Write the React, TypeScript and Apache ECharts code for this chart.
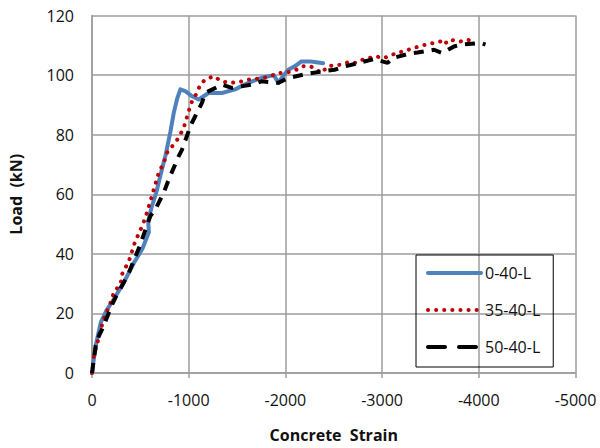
import React, { useEffect, useRef } from "react";
import * as echarts from "echarts";

const seriesNames = ["0-40-L", "35-40-L", "50-40-L"];

const strainA = [0, -20, -39, -91, -150, -211, -331, -434, -520, -588, -581, -615, -664, -720, -760, -811, -846, -880, -914, -965, -1030, -1103, -1206, -1343, -1480, -1617, -1754, -1880, -1926, -1960, -2029, -2100, -2166, -2250, -2302, -2390];
const loadA = [0, 5, 9.3, 17, 21, 24, 30.5, 37, 41.6, 47.2, 51, 55.5, 60.5, 68, 73, 81, 87.4, 92, 95.2, 94.6, 93, 91.8, 94, 94, 95.2, 97.4, 99.1, 100, 97.4, 99, 101.8, 103, 104.6, 104.6, 104.4, 104];

const strainB = [0, -22, -50, -91, -125, -194, -228, -297, -307, -383, -444, -520, -553, -605, -640, -691, -743, -777, -846, -897, -948, -1000, -1034, -1085, -1120, -1171, -1257, -1343, -1428, -1514, -1617, -1771, -1857, -1943, -2029, -2114, -2183, -2268, -2371, -2440, -2577, -2646, -2731, -2800, -2937, -3006, -3074, -3143, -3228, -3315, -3383, -3469, -3537, -3606, -3640, -3691, -3812, -3880, -3910];
const loadB = [0, 6.5, 9.3, 14.9, 18.2, 23.8, 27.2, 29.9, 32.9, 37.7, 43.9, 49.4, 52.2, 57.8, 61.7, 67.3, 70.6, 74, 76.8, 79, 82.3, 87.9, 91.2, 94, 96.8, 98.5, 99.6, 97.9, 97.4, 97.6, 98.5, 99, 99.8, 100.7, 101, 101.8, 103, 102.8, 100.7, 103, 103.5, 104.3, 104.1, 105.2, 106.3, 105.7, 106.3, 107.4, 108, 109, 109.6, 110.4, 110.8, 111.3, 110.2, 111.9, 111.3, 111.9, 111.6];

const strainC = [0, -5, -15, -39, -74, -108, -177, -211, -245, -331, -383, -486, -605, -656, -743, -794, -897, -931, -1000, -1034, -1137, -1171, -1343, -1445, -1651, -1754, -1926, -2029, -2234, -2337, -2508, -2628, -2783, -2920, -3057, -3109, -3280, -3366, -3537, -3623, -3743, -3812, -4017, -4069];
const loadC = [0, 1, 3.7, 9.3, 12.6, 14.9, 20.5, 23.2, 25.5, 30.5, 33.8, 42, 52.8, 55, 60.6, 65, 72.8, 75, 81.2, 84, 90.7, 94, 96.8, 95.7, 96.8, 97.9, 97.4, 99, 100.5, 101, 101.8, 103, 104.3, 105.4, 104.1, 105.7, 107.2, 107.6, 108.5, 107.4, 109.6, 110.2, 110.8, 110.2];

const xTicks = { min: -5000, max: 0, step: 1000 };
const yTicks = { min: 0, max: 120, step: 20 };

const pairs = (xs: number[], ys: number[]) => xs.map((x, i) => [x, ys[i]]);

const FONT = "'Open Sans', 'Liberation Sans', sans-serif";
const GRID = "#9c9c9c";
const hidden = { opacity: 0, color: "transparent", borderWidth: 0 };

export default function App() {
  const ref = useRef<HTMLDivElement>(null);
  useEffect(() => {
    if (!ref.current) return;
    const chart = echarts.init(ref.current, null, { renderer: "svg" });
    chart.setOption({
      animation: false,
      backgroundColor: "#ffffff",
      grid: { left: 90, right: 24.5, top: 15.5, bottom: 73.5, containLabel: false },
      legend: {
        orient: "vertical",
        left: 416,
        top: 255,
        padding: [10, 13, 12, 10],
        itemWidth: 53,
        itemHeight: 14,
        itemGap: 21,
        borderColor: "#000",
        borderWidth: 1,
        backgroundColor: "transparent",
        textStyle: { fontFamily: FONT, fontSize: 16, color: "#111", padding: [0, 0, 0, -1] },
        data: [
          { name: seriesNames[0], itemStyle: hidden, lineStyle: { width: 4, color: "#4f81bd", type: "solid" } },
          { name: seriesNames[1], itemStyle: hidden, lineStyle: { width: 4, color: "#c00000", type: [0.1, 8], cap: "round" } },
          { name: seriesNames[2], itemStyle: hidden, lineStyle: { width: 4, color: "#000", type: [17, 14], cap: "round" } },
        ],
      },
      xAxis: {
        type: "value",
        min: xTicks.min,
        max: xTicks.max,
        interval: xTicks.step,
        inverse: true,
        name: "Concrete  Strain",
        nameLocation: "middle",
        nameGap: 54,
        nameTextStyle: { fontFamily: FONT, fontSize: 16, fontWeight: "bold", color: "#111" },
        axisLine: { show: true, onZero: false, lineStyle: { color: GRID, width: 1.5 } },
        axisTick: { show: true, length: 5, lineStyle: { color: GRID, width: 1.5 } },
        axisLabel: { fontFamily: FONT, fontSize: 16, color: "#111", margin: 19, formatter: (v: number) => String(v) },
        splitLine: { show: true, lineStyle: { color: GRID, width: 1.5 } },
      },
      yAxis: {
        type: "value",
        min: yTicks.min,
        max: yTicks.max,
        interval: yTicks.step,
        name: "Load  (kN)",
        nameLocation: "middle",
        nameRotate: 90,
        nameGap: 68,
        nameTextStyle: { fontFamily: FONT, fontSize: 16, fontWeight: "bold", color: "#111" },
        axisLine: { show: true, lineStyle: { color: GRID, width: 1.5 } },
        axisTick: { show: false },
        axisLabel: { fontFamily: FONT, fontSize: 16, color: "#111", margin: 18 },
        splitLine: { show: true, lineStyle: { color: GRID, width: 1.5 } },
      },
      series: [
        {
          name: seriesNames[0],
          type: "line",
          data: pairs(strainA, loadA),
          symbol: "none",
          lineStyle: { width: 4, color: "#4f81bd", type: "solid", join: "round", cap: "round" },
          itemStyle: { color: "#4f81bd" },
          z: 2,
        },
        {
          name: seriesNames[1],
          type: "line",
          data: pairs(strainB, loadB),
          symbol: "none",
          lineStyle: { width: 4, color: "#c00000", type: [0.1, 8], cap: "round" },
          itemStyle: { color: "#c00000" },
          z: 3,
        },
        {
          name: seriesNames[2],
          type: "line",
          data: pairs(strainC, loadC),
          symbol: "none",
          lineStyle: { width: 4, color: "#000", type: [10, 8], cap: "butt" },
          itemStyle: { color: "#000" },
          z: 4,
        },
      ],
    });
    return () => chart.dispose();
  }, []);
  return <div ref={ref} style={{ width: 600, height: 448, position: "absolute", left: 0, top: 0 }} />;
}
